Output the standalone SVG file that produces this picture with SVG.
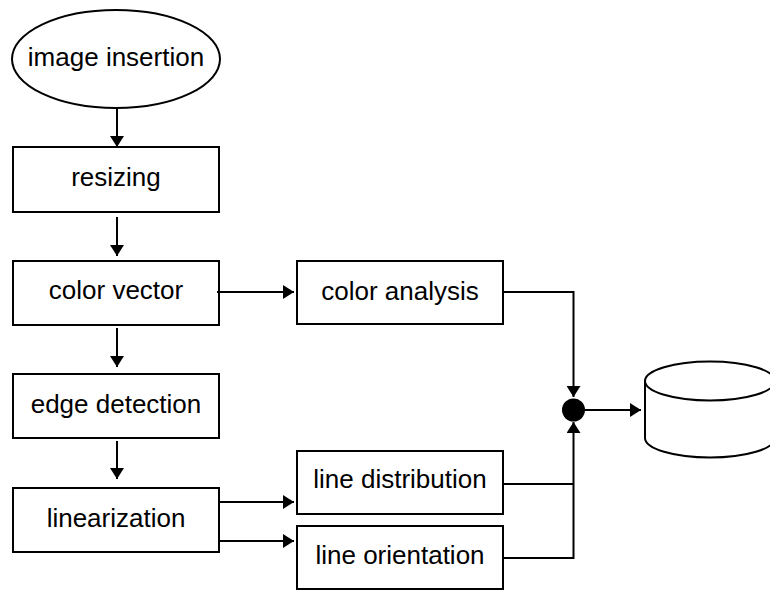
<svg xmlns="http://www.w3.org/2000/svg" width="770" height="590" viewBox="0 0 770 590">
  <defs>
    <marker id="arrow" markerWidth="11" markerHeight="14" refX="11" refY="7" orient="auto" markerUnits="userSpaceOnUse">
      <polygon points="0,0 11,7 0,14" fill="#000"/>
    </marker>
    <style>
      .box { fill: #fff; stroke: #000; stroke-width: 2; }
      .lbl { font-family: "Liberation Sans", Arial, sans-serif; font-size: 26px; fill: #000; text-anchor: middle; }
      .wire { fill: none; stroke: #000; stroke-width: 2; }
      .wire.arr { marker-end: url(#arrow); }
    </style>
  </defs>
  <rect width="770" height="590" fill="#fff"/>

  <g id="image-insertion">
    <ellipse class="box" cx="116" cy="59" rx="104" ry="49"/>
    <text class="lbl" x="116" y="66">image insertion</text>
  </g>
  <g id="resizing">
    <rect class="box" x="13" y="147" width="206" height="65"/>
    <text class="lbl" x="116" y="186">resizing</text>
  </g>
  <g id="color-vector">
    <rect class="box" x="13" y="261" width="206" height="64"/>
    <text class="lbl" x="116" y="299">color vector</text>
  </g>
  <g id="edge-detection">
    <rect class="box" x="13" y="374" width="206" height="64"/>
    <text class="lbl" x="116" y="413">edge detection</text>
  </g>
  <g id="linearization">
    <rect class="box" x="13" y="488" width="206" height="64"/>
    <text class="lbl" x="116" y="527">linearization</text>
  </g>
  <g id="color-analysis">
    <rect class="box" x="297" y="261" width="206" height="63"/>
    <text class="lbl" x="400" y="300">color analysis</text>
  </g>
  <g id="line-distribution">
    <rect class="box" x="297" y="451" width="206" height="63"/>
    <text class="lbl" x="400" y="488">line distribution</text>
  </g>
  <g id="line-orientation">
    <rect class="box" x="297" y="526" width="206" height="63"/>
    <text class="lbl" x="400" y="564">line orientation</text>
  </g>
  <g id="junction">
    <circle cx="573.5" cy="410" r="11.5" fill="#000"/>
  </g>
  <g id="database">
    <path class="box" d="M645,381 L645,438 A65,19.5 0 0 0 775,438 L775,381 Z"/>
    <ellipse class="box" cx="710" cy="381" rx="65" ry="19.5"/>
  </g>

  <g id="connectors">
    <line class="wire arr" x1="117" y1="108" x2="117" y2="147"/>
    <line class="wire arr" x1="117" y1="217" x2="117" y2="256"/>
    <line class="wire arr" x1="117" y1="328" x2="117" y2="367"/>
    <line class="wire arr" x1="117" y1="441" x2="117" y2="479"/>
    <line class="wire arr" x1="217" y1="292" x2="294" y2="292"/>
    <line class="wire arr" x1="219" y1="502" x2="294" y2="502"/>
    <line class="wire arr" x1="219" y1="541" x2="294" y2="541"/>
    <polyline class="wire arr" points="503,292 573.5,292 573.5,397"/>
    <polyline class="wire" points="503,484 573.5,484"/>
    <polyline class="wire arr" points="503,558 573.5,558 573.5,422"/>
    <line class="wire arr" x1="585" y1="410" x2="641" y2="410"/>
  </g>
</svg>
